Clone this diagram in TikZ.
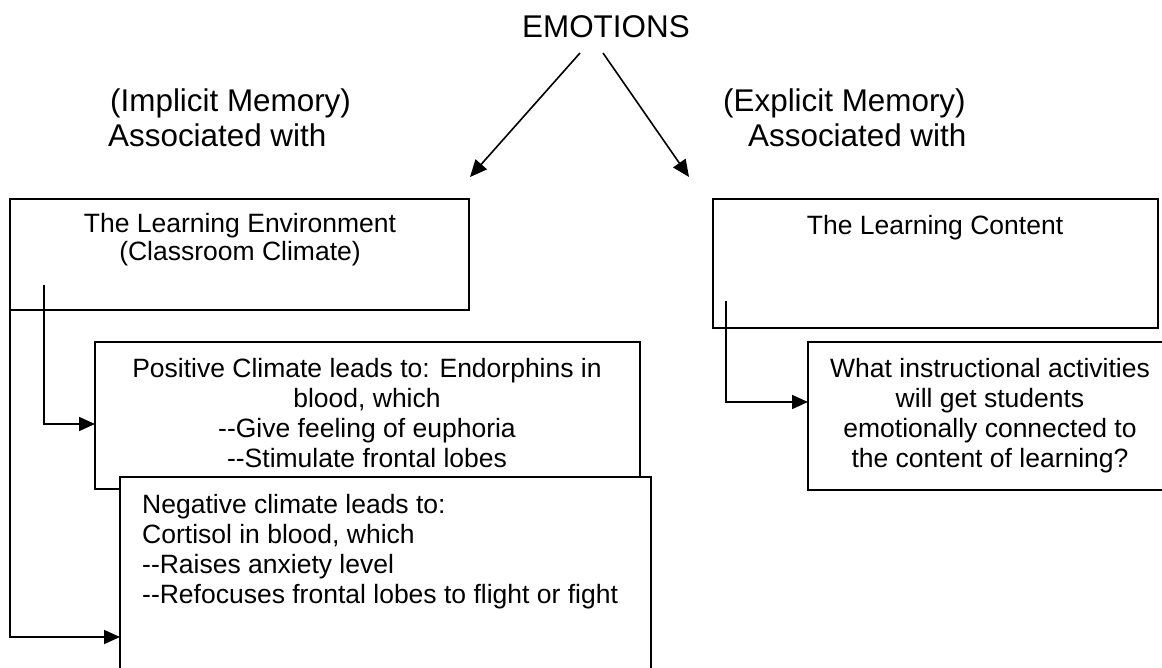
\documentclass[tikz,border=0pt]{standalone}
\usepackage{fontspec}
\setmainfont{Liberation Sans}
\usetikzlibrary{arrows.meta,calc}
\begin{document}
\begin{tikzpicture}[x=1pt,y=-1pt,
  boxst/.style={draw=black, line width=1.8pt, fill=white},
  bodytext/.style={inner sep=0pt, font=\fontsize{26.5}{30}\selectfont},
  bigtext/.style={inner sep=0pt, font=\fontsize{31.4}{35}\selectfont},
  arr/.style={line width=1.6pt, -{Triangle[length=17pt,width=15pt]}},
  link/.style={line width=1.8pt, -{Triangle[length=16pt,width=14pt]}}]
\useasboundingbox (0,0) rectangle (1162,668);
\begin{scope}
\clip (0,0) rectangle (1162,668);
% title and labels
\node[bigtext, anchor=base west] (emo) at (522,38) {EMOTIONS};
\node[bigtext, anchor=base west] (impl) at (110,112) {(Implicit Memory)};
\node[bigtext, anchor=base west] (impla) at (108,147) {Associated with};
\node[bigtext, anchor=base west] (expl) at (723,112) {(Explicit Memory)};
\node[bigtext, anchor=base west] (expla) at (748,147) {Associated with};
\coordinate (eL) at (580,53);
\coordinate (eLend) at (470,177);
\coordinate (eR) at (603,53);
\coordinate (eRend) at (689,177);
\draw[arr] (eL) -- (eLend);
\draw[arr] (eR) -- (eRend);
% boxes
\path[boxst] (10,199) rectangle (469,310);
\node[inner sep=0pt, minimum width=459pt, minimum height=111pt, anchor=north west] (env) at (10,199) {};
\path[boxst] (95,342) rectangle (640,489);
\node[inner sep=0pt, minimum width=545pt, minimum height=147pt, anchor=north west] (pos) at (95,342) {};
\path[boxst] (120,477) rectangle (651,700);
\node[inner sep=0pt, minimum width=531pt, minimum height=223pt, anchor=north west] (neg) at (120,477) {};
\path[boxst] (713,199) rectangle (1158,328);
\node[inner sep=0pt, minimum width=445pt, minimum height=129pt, anchor=north west] (cont) at (713,199) {};
\path[boxst] (808,342) rectangle (1180,490);
\node[inner sep=0pt, minimum width=372pt, minimum height=148pt, anchor=north west] (act) at (808,342) {};
% texts (base anchor = last line)
\node[bodytext, align=center, anchor=base, font=\fontsize{26.5}{28}\selectfont] (envt) at (240,261) {The Learning Environment\\(Classroom Climate)};
\node[bodytext, align=center, anchor=base] (post) at (367,467) {Positive Climate leads to: Endorphins in\\blood, which\\-{}-Give feeling of euphoria\\-{}-Stimulate frontal lobes};
\node[bodytext, align=left, anchor=base west] (negt) at (142,603) {Negative climate leads to:\\Cortisol in blood, which\\-{}-Raises anxiety level\\-{}-Refocuses frontal lobes to flight or fight};
\node[bodytext, anchor=base] (contt) at (935,235) {The Learning Content};
\node[bodytext, align=center, anchor=base] (actt) at (990,467) {What instructional activities\\will get students\\emotionally connected to\\the content of learning?};
% connectors
\coordinate (s1) at (44,285);
\coordinate (s2) at (10,285);
\coordinate (s3) at (726,301);
\draw[link] (s1) |- (pos.west |- 0,424);
\draw[link] (s2) |- (neg.west |- 0,637);
\draw[link] (s3) |- (act.west |- 0,402);
\end{scope}
\end{tikzpicture}
\end{document}
